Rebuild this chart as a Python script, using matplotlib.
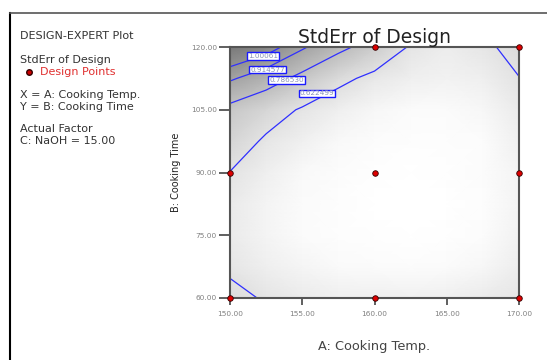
import numpy as np
import matplotlib.pyplot as plt
from matplotlib.colors import LinearSegmentedColormap
from matplotlib.lines import Line2D

plt.rcParams['font.family'] = ['DejaVu Sans']

# grid of the factor space (A: temp, B: time)
temp = [150.0, 152.5, 155.0, 157.5, 160.0, 162.5, 165.0, 167.5, 170.0]
time = [60.0, 67.5, 75.0, 82.5, 90.0, 97.5, 105.0, 112.5, 120.0]

# StdErr of design, one row per time value (60 -> 120)
stderr = [
    [0.66, 0.61, 0.57, 0.55, 0.55, 0.54, 0.55, 0.57, 0.60],
    [0.60, 0.55, 0.51, 0.48, 0.47, 0.46, 0.47, 0.50, 0.56],
    [0.57, 0.52, 0.47, 0.44, 0.42, 0.41, 0.42, 0.45, 0.53],
    [0.58, 0.52, 0.47, 0.43, 0.41, 0.40, 0.41, 0.44, 0.52],
    [0.62, 0.55, 0.49, 0.45, 0.42, 0.41, 0.42, 0.45, 0.52],
    [0.69, 0.605, 0.54, 0.49, 0.45, 0.43, 0.43, 0.46, 0.54],
    [0.75, 0.68, 0.61, 0.55, 0.50, 0.47, 0.47, 0.50, 0.57],
    [0.93, 0.85, 0.75, 0.655, 0.59, 0.55, 0.53, 0.55, 0.62],
    [1.12, 1.05, 0.93, 0.82, 0.73, 0.61, 0.56, 0.60, 0.66],
]

levels = [0.622499, 0.786530, 0.914577, 1.00061]
level_labels = ['0.622499', '0.786530', '0.914577', '1.00061']
label_pos = [(156.0, 108.9), (153.9, 112.1), (152.6, 114.6), (152.3, 117.9)]

# design points at C = 15
pt_temp = [160, 170, 150, 160, 170, 150, 160, 170]
pt_time = [120, 120, 90, 90, 90, 60, 60, 60]

fig = plt.figure(figsize=(5.47, 3.6), dpi=100)
ax = fig.add_axes([230/547, 1-298/360, 289/547, 251/360])

cmap = LinearSegmentedColormap.from_list(
    'se', [(0, '#ffffff'), (0.1, '#fbfbfb'), (0.3, '#e2e2e2'), (1, '#727272')])
X, Y = np.meshgrid(temp, time)
Z = np.array(stderr)
ax.pcolormesh(X, Y, Z, shading='gouraud', cmap=cmap, vmin=0.40, vmax=1.15)
ax.contour(X, Y, Z, levels=levels, colors='#2f2fff', linewidths=0.9)

for lab, (lx, ly) in zip(level_labels, label_pos):
    ax.text(lx, ly, lab, fontsize=5.2, color='#8890b8', ha='center', va='center',
            bbox=dict(boxstyle='square,pad=0.12', fc='white', ec='#1a1aff', lw=1.0))

ax.scatter(pt_temp, pt_time, s=16, c='#dd0000', edgecolors='#330000',
           linewidths=0.6, zorder=5, clip_on=False)

ax.set_xlim(150, 170)
ax.set_ylim(60, 120)
ax.set_xticks([150, 155, 160, 165, 170])
ax.set_yticks([60, 75, 90, 105, 120])
ax.xaxis.set_major_formatter(plt.FormatStrFormatter('%.2f'))
ax.yaxis.set_major_formatter(plt.FormatStrFormatter('%.2f'))
ax.tick_params(direction='out', width=1.2, color='#444444',
               labelsize=5.3, labelcolor='#808080')
ax.tick_params(axis='x', length=5, pad=4)
ax.tick_params(axis='y', length=8, pad=1.5)
for s in ax.spines.values():
    s.set_color('#555555')
    s.set_linewidth(1.5)

ax.set_xlabel('A: Cooking Temp.', fontsize=9.3, color='#444444', labelpad=17)
ax.set_ylabel('B: Cooking Time', fontsize=7, color='#222222', labelpad=7)
ax.set_title('StdErr of Design', fontsize=13.5, color='#222222', pad=-2)

# side legend text
txt = dict(fontsize=8, color='#333333', va='center')
fig.text(20/547, 1-36/360, 'DESIGN-EXPERT Plot', **txt)
fig.text(20/547, 1-60/360, 'StdErr of Design', **txt)
fig.text(40/547, 1-72/360, 'Design Points', fontsize=8, color='#e03030',
         va='center')
fig.add_artist(Line2D([29/547], [1-72/360], marker='o', markersize=4,
                      color='#cc0000', markeredgecolor='#330000'))
fig.text(20/547, 1-95/360, 'X = A: Cooking Temp.', **txt)
fig.text(20/547, 1-107/360, 'Y = B: Cooking Time', **txt)
fig.text(20/547, 1-129/360, 'Actual Factor', **txt)
fig.text(20/547, 1-141/360, 'C: NaOH = 15.00', **txt)

# outer frame
fig.add_artist(Line2D([10/547, 10/547], [0, 1-13/360], color='black', lw=1.5))
fig.add_artist(Line2D([10/547, 1], [1-13/360, 1-13/360], color='#555555', lw=1.2))

fig.savefig('out.png', dpi=100)
